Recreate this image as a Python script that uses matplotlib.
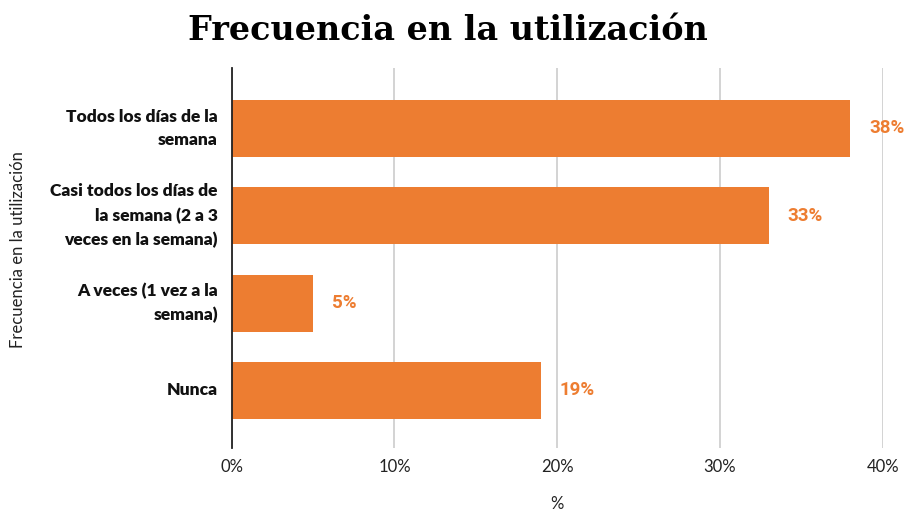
import matplotlib
matplotlib.use("Agg")
import matplotlib.pyplot as plt
from matplotlib.ticker import FuncFormatter

categories = [
    "Todos los días de la\nsemana",
    "Casi todos los días de\nla semana (2 a 3\nveces en la semana)",
    "A veces (1 vez a la\nsemana)",
    "Nunca",
]
values = [38, 33, 5, 19]
xticks = [0, 10, 20, 30, 40]

orange = "#ED7D31"

fig = plt.figure(figsize=(9.07, 5.2), dpi=100)
ax = fig.add_axes([0.2555, 0.1385, 0.7177, 0.7308])

ypos = list(range(len(categories)))
ax.barh(ypos, values, height=0.653, color=orange, zorder=3)
ax.set_ylim(3.659, -0.693)
ax.set_xlim(0, 40)

ax.set_xticks(xticks)
ax.xaxis.set_major_formatter(FuncFormatter(lambda v, p: f"{int(v)}%"))
ax.grid(axis="x", color="#cccccc", linewidth=1.2, zorder=0)
ax.set_axisbelow(True)

for s in ["top", "right", "bottom"]:
    ax.spines[s].set_visible(False)
ax.spines["left"].set_color("#222222")
ax.spines["left"].set_linewidth(1.3)
ax.spines["left"].set_zorder(4)

ax.tick_params(axis="both", length=0)
ax.tick_params(axis="x", pad=8)
for lbl in ax.get_xticklabels():
    lbl.set_fontfamily("Lato")
    lbl.set_fontsize(12)
    lbl.set_color("#222222")

ax.set_yticks(ypos)
ax.set_yticklabels(categories, fontfamily="Lato", fontweight="heavy", fontsize=12.5,
                   color="#111111", linespacing=1.6, va="center")
ax.tick_params(axis="y", pad=10)

for y, v in zip(ypos, values):
    ax.annotate(f"{v}%", xy=(v, y), xytext=(19, 0), textcoords="offset pixels",
                ha="left", va="center", color=orange, fontweight="bold",
                fontfamily="Roboto", fontsize=13.5)

fig.text(0.494, 0.942, "Frecuencia en la utilización", ha="center", va="center",
         fontfamily="DejaVu Serif", fontweight="bold", fontsize=24, color="black")
fig.text(0.020, 0.52, "Frecuencia en la utilización", rotation=90, ha="center", va="center",
         fontfamily="Lato", fontsize=12, color="#222222")
fig.text(0.614, 0.015, "%", ha="center", va="bottom", fontfamily="Lato", fontsize=12,
         color="#222222")

fig.savefig("out.png", dpi=100)
